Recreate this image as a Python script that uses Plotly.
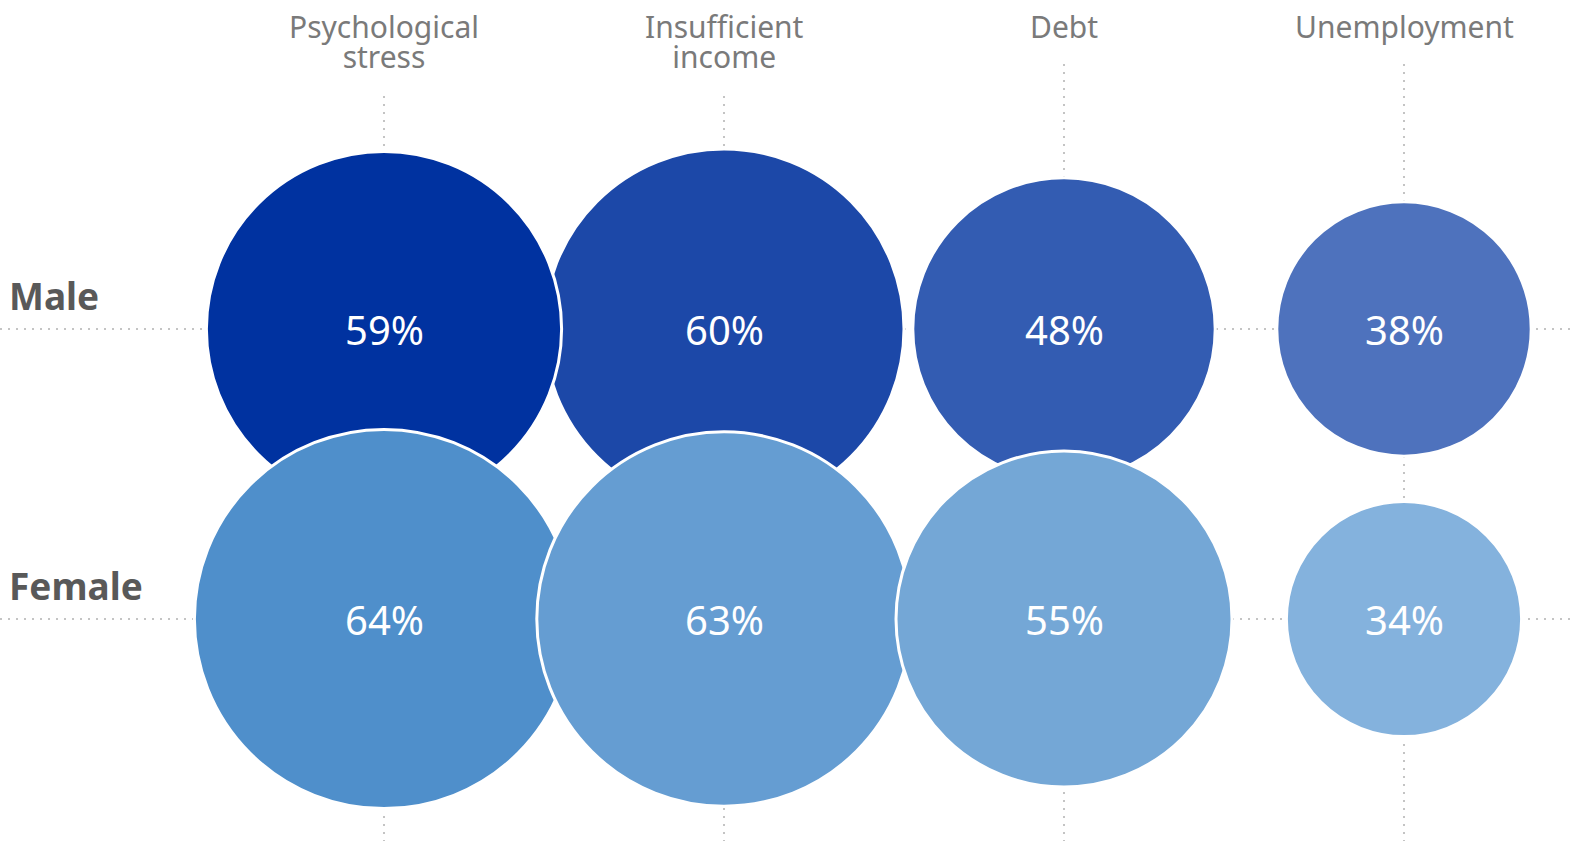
import plotly.graph_objects as go

# Share of respondents citing each factor, by gender
categories = ["Psychological<br>stress", "Insufficient<br>income", "Debt", "Unemployment"]
genders = ["Male", "Female"]
male_pct = [59, 60, 48, 38]
female_pct = [64, 63, 55, 34]

male_colors = ["#0032a0", "#1c48a8", "#335cb2", "#4e72bd"]
female_colors = ["#4f8fcb", "#659dd2", "#74a7d6", "#84b2dd"]

FONT = "Segoe UI, Noto Sans, Open Sans, sans-serif"
OUTLINE = 3


def diameter(v):
    # linear bubble scale: diameter in px from percentage
    return 4.8 * v + 75 - OUTLINE


xs = list(range(len(categories)))
fig = go.Figure()

# Male row: drawn right-to-left so the first bubble sits on top of its neighbour
order = list(reversed(xs))
fig.add_trace(go.Scatter(
    x=[xs[i] for i in order],
    y=[1] * len(order),
    mode="markers",
    marker=dict(
        size=[diameter(male_pct[i]) for i in order],
        sizemode="diameter",
        color=[male_colors[i] for i in order],
        line=dict(color="white", width=OUTLINE),
        opacity=1,
    ),
    hoverinfo="skip",
    cliponaxis=False,
    showlegend=False,
))

# Female row: drawn left-to-right, overlapping the male row
fig.add_trace(go.Scatter(
    x=xs,
    y=[0] * len(xs),
    mode="markers",
    marker=dict(
        size=[diameter(v) for v in female_pct],
        sizemode="diameter",
        color=female_colors,
        line=dict(color="white", width=OUTLINE),
        opacity=1,
    ),
    hoverinfo="skip",
    cliponaxis=False,
    showlegend=False,
))

annotations = []

# Value labels centred in each bubble
for yv, vals in zip([1, 0], [male_pct, female_pct]):
    for i, v in enumerate(vals):
        annotations.append(dict(
            x=xs[i], y=yv, xref="x", yref="y",
            text=f"{v}%", showarrow=False,
            font=dict(family=FONT, size=40, color="white"),
        ))

# Category headers: the base font sets a tight line spacing while the spans
# carry the visible size; the padded white box masks the top of the gridline.
HEADER_PX = 30
TOP = 5
PAD = 16
for i, c in enumerate(categories):
    styled = "<br>".join(
        f"<span style='font-size:{HEADER_PX}px'>{part}</span>" for part in c.split("<br>")
    )
    annotations.append(dict(
        x=i, y=1, xref="x", yref="paper", yanchor="top",
        yshift=PAD - TOP,
        text=styled, showarrow=False,
        font=dict(family=FONT, size=23, color="#7a7a7a"),
        bgcolor="white", borderpad=PAD, align="center",
    ))

# Row labels
for yv, g in zip([1, 0], genders):
    annotations.append(dict(
        x=0, y=yv, xref="paper", yref="y", xanchor="left", yanchor="bottom",
        xshift=7, yshift=6,
        text=f"<b>{g}</b>", showarrow=False,
        font=dict(family=FONT, size=37, color="#595959"),
    ))

grid = dict(showgrid=True, gridcolor="#c4c4c4", gridwidth=2, griddash="2px,6px",
            zeroline=False, showticklabels=False, ticks="", showline=False)

fig.update_layout(
    width=1572, height=841,
    margin=dict(l=0, r=0, t=0, b=0),
    paper_bgcolor="white", plot_bgcolor="white",
    xaxis=dict(range=[-384 / 340, (1572 - 384) / 340], tickvals=xs, **grid),
    yaxis=dict(range=[-222 / 290, 619 / 290], tickvals=[0, 1], **grid),
    annotations=annotations,
)

fig.write_html("out.html")
